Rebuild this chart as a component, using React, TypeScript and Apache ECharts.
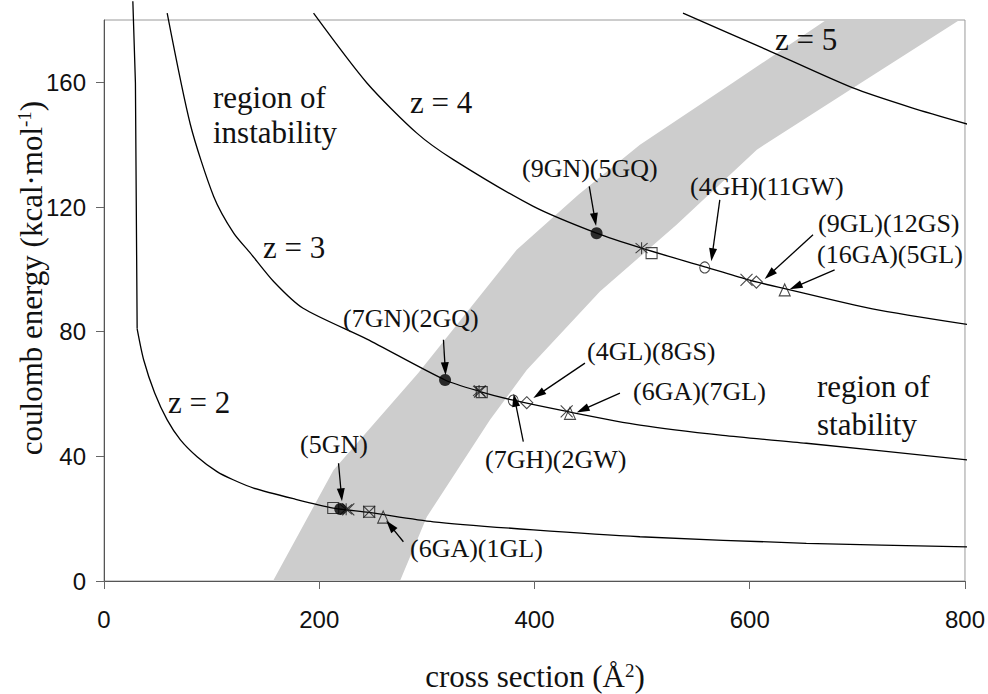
import React, { useEffect, useRef } from "react";
import * as echarts from "echarts";

// Axis ticks
const xTicks = [0, 200, 400, 600, 800];
const yTicks = [0, 40, 80, 120, 160];

// Iso-charge curves, points as [cross section (Å²), coulomb energy (kcal/mol)]
const curveZ2 = [
  [26.8, 186], [29.2, 159.8], [30.8, 80.9], [36.9, 70.9], [47.1, 60.3], [58.7, 51.7],
  [71, 45.3], [86.5, 39.9], [105, 35.1], [120.5, 32.4], [139, 29.8], [176, 26.4],
  [213, 23.4], [246, 22.0], [306, 19.0], [399, 16.4], [498, 14.2], [652.6, 12.1], [805, 10.9],
];
const curveZ3 = [
  [58.7, 182.2], [80.3, 146.4], [101.9, 123.4], [120.5, 111.6], [136, 105.2], [157.6, 96.1],
  [185, 87.5], [244.3, 77.6], [316.9, 64.5], [349.4, 60.8], [380.3, 58.0], [430, 54.4],
  [498, 50.0], [575, 46.7], [652.6, 44.2], [804, 38.8],
];
const curveZ4 = [
  [194.7, 182.2], [244.3, 159.8], [290.7, 143.7], [324.6, 135.2], [398.9, 120.2],
  [457.7, 111.6], [499.5, 106.8], [558.2, 100.8], [597, 96.8], [632.5, 93.8], [714, 87.3], [804, 82.2],
];
const curveZ5 = [
  [538, 182.2], [615.5, 170.5], [695.9, 158.2], [750, 151.9], [804.2, 146.4],
];

// Shaded band edges
const bandLeft = [
  [157, 0], [213.3, 35.6], [292, 66.7], [383.5, 106.3], [441, 124], [498, 140], [585, 160], [671, 180],
];
const bandRight = [
  [275, 0], [300, 20.6], [358.7, 51.7], [392.8, 67.7], [460.8, 92.9], [532, 114.3],
  [606.6, 138.4], [695.9, 158.2], [794.9, 180],
];

// Complexes, grouped by marker
const filledCircles = [[219.5, 23.1], [316.9, 64.5], [457.7, 111.6]];
const openCircles = [[380.3, 57.9], [558.2, 100.6]];
const squares = [[213, 23.4], [246.4, 22.2], [351, 60.6], [508.8, 105.2]];
const crosses = [[227, 23.0], [246.4, 22.2], [349.4, 60.8], [429.9, 54.4], [597, 96.6]];
const asterisks = [[225, 23.0], [348.5, 61.0], [499.5, 106.8]];
const diamonds = [[392.8, 57.2], [606.2, 95.9]];
const triangles = [[259.4, 20.5], [433, 53.8], [632.5, 93.4]];

// Annotation arrows: tail -> head
const arrowFrom = [
  [450.9, 126.6], [572.2, 122.3], [658.8, 111.1], [678.9, 99.8], [315.4, 77.4],
  [446.9, 69.9], [479.4, 60.3], [389.6, 44.7], [217.9, 37.8], [278.2, 12.6],
];
const arrowTo = [
  [457.2, 113.9], [564.3, 102.6], [613.9, 96.9], [637.1, 93.6], [317.4, 66.0],
  [398.9, 58.7], [439.2, 54.1], [380.6, 60.1], [221.1, 25.6], [262.2, 19.4],
];

const SERIF = '"Liberation Serif", "Times New Roman", serif';
const SANS = '"Liberation Sans", Arial, sans-serif';

const annotations: [string, number, number][] = [
  ["(9GN)(5GQ)", 522, 168],
  ["(4GH)(11GW)", 690, 186],
  ["(9GL)(12GS)", 818, 223],
  ["(16GA)(5GL)", 817, 254],
  ["(7GN)(2GQ)", 343, 318],
  ["(4GL)(8GS)", 587, 351],
  ["(6GA)(7GL)", 633, 391],
  ["(7GH)(2GW)", 485, 459],
  ["(5GN)", 300, 444],
  ["(6GA)(1GL)", 410, 548],
];

const bigLabels: [string, number, number][] = [
  ["region of", 213, 97],
  ["instability", 213, 132],
  ["z = 2", 168, 402],
  ["z = 3", 263, 247],
  ["z = 4", 410, 102],
  ["z = 5", 775, 39],
  ["region of", 817, 386],
  ["stability", 817, 424],
];

const crossPath = "path://M0,0L10,10M10,0L0,10";
const asteriskPath = "path://M0,0L10,10M10,0L0,10M5,-1L5,11";

function curveSeries(data: number[][], smooth: number | boolean) {
  return {
    type: "line",
    data,
    showSymbol: false,
    clip: false,
    smooth,
    lineStyle: { color: "#000", width: 1.3 },
    z: 3,
    silent: true,
  };
}

function markerSeries(data: number[][], symbol: string, size: number | number[], filled: boolean) {
  return {
    type: "scatter",
    data,
    symbol,
    symbolSize: size,
    itemStyle: filled
      ? { color: "#000" }
      : { color: "rgba(0,0,0,0)", borderColor: "#1a1a1a", borderWidth: 1.1 },
    z: 5,
    silent: true,
  };
}

export default function App() {
  const ref = useRef<HTMLDivElement>(null);

  useEffect(() => {
    if (!ref.current) return;
    const chart = echarts.init(ref.current, undefined, { renderer: "svg" });

    const graphics: any[] = [];
    annotations.forEach(([t, x, y]) =>
      graphics.push({
        type: "text",
        x,
        y,
        z: 20,
        style: { text: t, fill: "#111", font: `26px ${SERIF}`, align: "left", verticalAlign: "middle" },
      })
    );
    bigLabels.forEach(([t, x, y]) =>
      graphics.push({
        type: "text",
        x,
        y,
        z: 20,
        style: { text: t, fill: "#111", font: `31px ${SERIF}`, align: "left", verticalAlign: "middle" },
      })
    );
    graphics.push({
      type: "text",
      x: 535,
      y: 676,
      style: {
        text: "{a|cross section (Å}{s|2}{a|)}",
        align: "center",
        verticalAlign: "middle",
        rich: {
          a: { fontSize: 31, fontFamily: SERIF, fill: "#111", lineHeight: 31 },
          s: { fontSize: 19, fontFamily: SERIF, fill: "#111", verticalAlign: "top", lineHeight: 31 },
        },
      },
    });
    graphics.push({
      type: "text",
      x: 31,
      y: 278,
      rotation: Math.PI / 2,
      style: {
        text: "{a|coulomb energy (kcal·mol}{s|-1}{a|)}",
        align: "center",
        verticalAlign: "middle",
        rich: {
          a: { fontSize: 31, fontFamily: SERIF, fill: "#111", lineHeight: 32 },
          s: { fontSize: 19, fontFamily: SERIF, fill: "#111", verticalAlign: "top", lineHeight: 32 },
        },
      },
    });

    const arrowData = arrowFrom.map((f, i) => [f[0], f[1], arrowTo[i][0], arrowTo[i][1]]);

    chart.setOption({
      animation: false,
      backgroundColor: "#fff",
      grid: {
        left: 104,
        right: 22.7,
        top: 20,
        bottom: 113,
        show: true,
        borderColor: "#9a9a9a",
        borderWidth: 1,
      },
      xAxis: {
        type: "value",
        min: 0,
        max: 800,
        interval: 200,
        splitLine: { show: false },
        axisLine: { show: true, onZero: false, lineStyle: { color: "#555", width: 1 } },
        axisTick: { show: true, length: 8, lineStyle: { color: "#666" }, customValues: xTicks },
        axisLabel: { customValues: xTicks, fontFamily: SANS, fontSize: 24, color: "#111", margin: 26 },
      },
      yAxis: {
        type: "value",
        min: 0,
        max: 180,
        interval: 40,
        splitLine: { show: false },
        axisLine: { show: true, onZero: false, lineStyle: { color: "#555", width: 1 } },
        axisTick: { show: true, length: 8, lineStyle: { color: "#666" }, customValues: yTicks },
        axisLabel: { customValues: yTicks, fontFamily: SANS, fontSize: 24, color: "#111", margin: 18 },
      },
      graphic: graphics,
      series: [
        {
          type: "custom",
          data: [[0, 0]],
          silent: true,
          z: 1,
          renderItem: (_params: any, api: any) => {
            const pts = [...bandLeft, ...bandRight.slice().reverse()].map((p) => api.coord(p));
            return {
              type: "polygon",
              shape: { points: pts },
              style: { fill: "#cdcdcd" },
            };
          },
        },
        // z = 2: steep wall, then the smooth decay after the bend
        curveSeries(curveZ2.slice(0, 3), false),
        curveSeries(curveZ2.slice(2), 0.25),
        curveSeries(curveZ3, 0.25),
        curveSeries(curveZ4, 0.25),
        curveSeries(curveZ5, 0.25),
        markerSeries(squares, "rect", 11, false),
        markerSeries(openCircles, "circle", [10, 11], false),
        markerSeries(diamonds, "diamond", 12, false),
        markerSeries(triangles, "triangle", [11, 12], false),
        markerSeries(crosses, crossPath, 12, false),
        markerSeries(asterisks, asteriskPath, 12, false),
        markerSeries(filledCircles, "circle", 12, true),
        {
          type: "custom",
          data: arrowData,
          encode: { x: [0, 2], y: [1, 3] },
          silent: true,
          z: 10,
          clip: false,
          renderItem: (_params: any, api: any) => {
            const a = api.coord([api.value(0), api.value(1)]);
            const b = api.coord([api.value(2), api.value(3)]);
            const dx = b[0] - a[0];
            const dy = b[1] - a[1];
            const len = Math.hypot(dx, dy) || 1;
            const ux = dx / len;
            const uy = dy / len;
            const hl = 13;
            const hw = 4;
            const bx = b[0] - ux * hl;
            const by = b[1] - uy * hl;
            return {
              type: "group",
              children: [
                {
                  type: "line",
                  shape: { x1: a[0], y1: a[1], x2: bx + ux * 2, y2: by + uy * 2 },
                  style: { stroke: "#000", lineWidth: 1.3 },
                },
                {
                  type: "polygon",
                  shape: {
                    points: [
                      [b[0], b[1]],
                      [bx - uy * hw, by + ux * hw],
                      [bx + uy * hw, by - ux * hw],
                    ],
                  },
                  style: { fill: "#000" },
                },
              ],
            };
          },
        },
      ],
    });

    return () => chart.dispose();
  }, []);

  return (
    <div
      ref={ref}
      style={{ position: "fixed", left: 0, top: 0, width: 988, height: 694, background: "#fff" }}
    />
  );
}
